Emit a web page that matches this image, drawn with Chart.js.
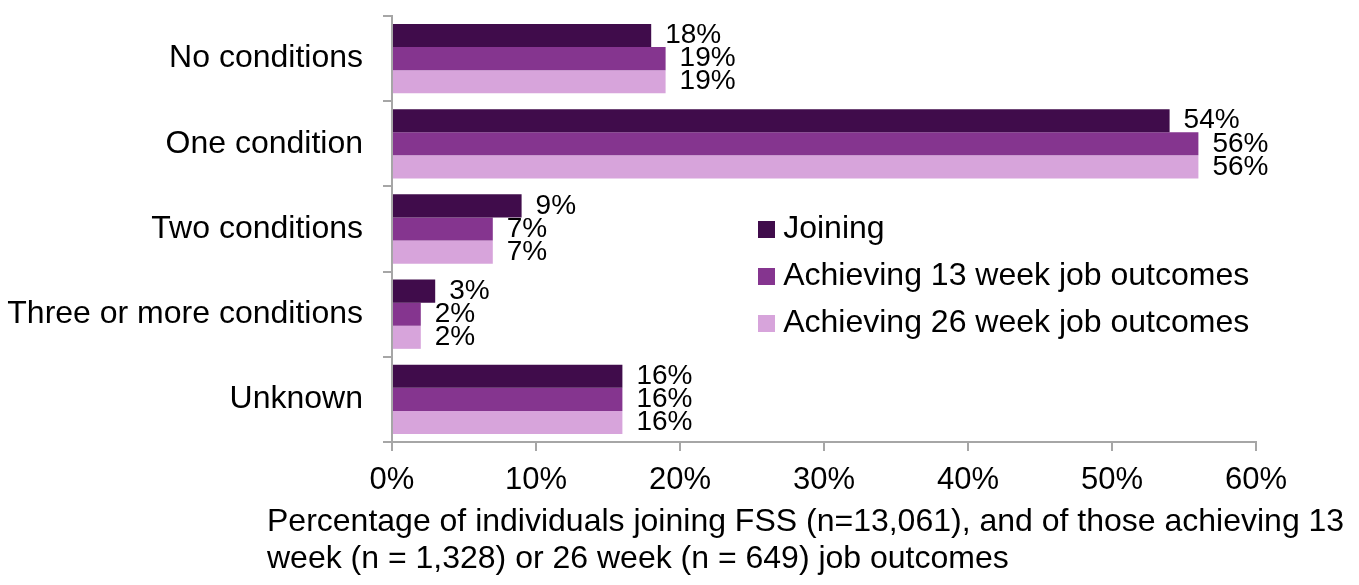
<!DOCTYPE html>
<html>
<head>
<meta charset="utf-8">
<script src="https://cdn.jsdelivr.net/npm/chart.js@4"></script>
<style>
  html, body { margin: 0; padding: 0; background: #ffffff; }
  canvas { display: block; }
</style>
</head>
<body>
<canvas id="chart" width="1359" height="585"></canvas>
<script>
// ---- data ----
const categories = ['No conditions', 'One condition', 'Two conditions', 'Three or more conditions', 'Unknown'];
const seriesNames = ['Joining', 'Achieving 13 week job outcomes', 'Achieving 26 week job outcomes'];
const joining = [18, 54, 9, 3, 16];
const week13 = [19, 56, 7, 2, 16];
const week26 = [19, 56, 7, 2, 16];
const xTickLabels = ['0%', '10%', '20%', '30%', '40%', '50%', '60%'];
const axisTitleLines = [
  'Percentage of individuals joining FSS (n=13,061), and of those achieving 13',
  'week (n = 1,328) or 26 week (n = 649) job outcomes'
];
const seriesColors = ['#400C4B', '#85358F', '#D7A4DB'];

// ---- styling ----
const FONT = '"Liberation Sans", Arial, Helvetica, sans-serif';
const AXIS_GREY = '#A6A6A6';
Chart.defaults.font.family = FONT;
Chart.defaults.color = '#000000';

function swatch(color) {
  const c = document.createElement('canvas');
  c.width = 17; c.height = 17;
  const g = c.getContext('2d');
  g.fillStyle = color;
  g.fillRect(0, 0, 17, 17);
  return c;
}

const valueLabels = {
  id: 'valueLabels',
  afterDatasetsDraw(chart) {
    const ctx = chart.ctx;
    ctx.save();
    ctx.font = '28px ' + FONT;
    ctx.fillStyle = '#000000';
    ctx.textBaseline = 'middle';
    ctx.textAlign = 'left';
    chart.data.datasets.forEach((ds, di) => {
      chart.getDatasetMeta(di).data.forEach((bar, i) => {
        ctx.fillText(ds.data[i] + '%', bar.x + 14, bar.y);
      });
    });
    ctx.restore();
  }
};

const placement = {
  id: 'placement',
  afterLayout(chart) {
    const lg = chart.legend;
    if (lg) {
      lg.left = 751.2;
      lg.top = 198.3;
      lg.bottom = 441;
      lg.right = 1330;
    }
    const t = chart.titleBlock;
    if (t) {
      t.left = 267;
      t.right = chart.width;
      t.width = chart.width - 267;
    }
  }
};

const seriesData = [joining, week13, week26];

new Chart(document.getElementById('chart'), {
  type: 'bar',
  data: {
    labels: categories,
    datasets: seriesNames.map((name, k) => ({
      label: name,
      data: seriesData[k],
      backgroundColor: seriesColors[k],
      borderWidth: 0,
      categoryPercentage: 0.813,
      barPercentage: 1.0
    }))
  },
  options: {
    indexAxis: 'y',
    responsive: false,
    animation: false,
    events: [],
    layout: { padding: { left: 0, right: 103, top: 16, bottom: 0 } },
    scales: {
      x: {
        type: 'linear',
        min: 0,
        max: 60,
        ticks: {
          stepSize: 10,
          autoSkip: false,
          maxRotation: 0,
          padding: 11,
          color: '#000000',
          font: { size: 31 },
          callback: (v, i) => xTickLabels[i]
        },
        grid: { drawOnChartArea: false, drawTicks: true, tickLength: 9, color: AXIS_GREY, lineWidth: 2 },
        border: { display: true, color: AXIS_GREY, width: 2 },
        afterFit(scale) { scale.height = 62; scale.paddingLeft = 0; scale.paddingRight = 0; }
      },
      y: {
        ticks: { autoSkip: false, padding: 20, color: '#000000', font: { size: 32 } },
        grid: { drawOnChartArea: false, drawTicks: true, tickLength: 9, color: AXIS_GREY, lineWidth: 2, offset: true },
        border: { display: true, color: AXIS_GREY, width: 2 },
        afterFit(scale) { scale.width = 392; scale.paddingTop = 0; scale.paddingBottom = 0; }
      }
    },
    plugins: {
      legend: {
        display: true,
        position: 'chartArea',
        align: 'start',
        labels: {
          usePointStyle: true,
          pointStyleWidth: 1,
          boxHeight: 17,
          padding: 15,
          color: '#000000',
          font: { size: 32 },
          generateLabels(chart) {
            const items = Chart.defaults.plugins.legend.labels.generateLabels(chart);
            items.forEach((it, k) => { it.pointStyle = swatch(seriesColors[k]); });
            return items;
          }
        }
      },
      title: {
        display: true,
        position: 'bottom',
        align: 'start',
        fullSize: true,
        text: axisTitleLines,
        color: '#000000',
        font: { size: 32, weight: 'normal', lineHeight: 1.15625 },
        padding: { top: 0, bottom: 7 }
      },
      tooltip: { enabled: false }
    }
  },
  plugins: [valueLabels, placement]
});
</script>
</body>
</html>
